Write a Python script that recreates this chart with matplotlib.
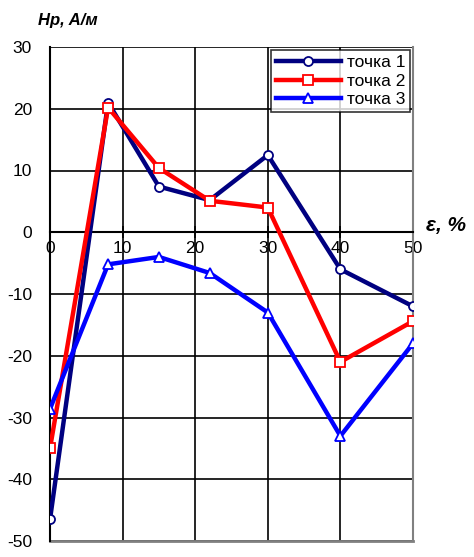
import matplotlib
matplotlib.use("Agg")
import matplotlib.pyplot as plt

# deformation, %
eps = [0, 8, 15, 22, 30, 40, 50]
# Hp, A/m for each measuring point
point1 = [-46.5, 21, 7.4, 5.2, 12.5, -6, -12]
point2 = [-35, 20.2, 10.4, 5.1, 4, -21, -14.4]
point3 = [-28.6, -5.2, -4.0, -6.6, -13, -33, -18]
labels = ["точка 1", "точка 2", "точка 3"]

x_ticks = [0, 10, 20, 30, 40, 50]
y_ticks = [-50, -40, -30, -20, -10, 0, 10, 20, 30]

plt.rcParams["font.family"] = ["Liberation Sans", "DejaVu Sans"]
plt.rcParams["axes.unicode_minus"] = False

fig = plt.figure(figsize=(4.74, 5.57), dpi=100)
ax = fig.add_axes([50 / 474, 16 / 557, 363 / 474, 494 / 557])

styles = [
    ("#000080", "o", 6.5),
    ("#FF0000", "s", 7.5),
    ("#0000FF", "^", 7.5),
]
for ys, lab, (c, m, ms) in zip([point1, point2, point3], labels, styles):
    ax.plot(eps, ys, color=c, lw=3.2, marker=m, ms=ms, mfc="white",
            mec=c, mew=1.3, label=lab, zorder=3)

ax.set_xlim(0, 50)
ax.set_ylim(-50, 30)
ax.set_xticks(x_ticks)
ax.set_yticks(y_ticks)
ax.grid(True, color="black", lw=1.2)

ax.spines["top"].set_visible(False)
ax.spines["right"].set_color("#808080")
ax.spines["right"].set_linewidth(1.5)
ax.spines["left"].set_linewidth(1.5)
ax.spines["bottom"].set_position(("data", 0))
ax.spines["bottom"].set_linewidth(1.5)

ax.tick_params(axis="y", length=0, labelsize=12.5, pad=13)
ax.tick_params(axis="x", direction="inout", length=8, width=1.2,
               labelsize=12.5, pad=2)
for t in ax.get_xticklabels():
    t.set_zorder(5)

# gray frame line at the bottom of the plot
ax.axhline(-50, color="#808080", lw=2, clip_on=False)

fig.text(38 / 474, 1 - 20 / 557, "Hp, A/м", fontsize=12, fontweight="bold",
         fontstyle="italic", ha="left", va="center")
fig.text(426 / 474, 1 - 226 / 557, "ε, %", fontsize=15, fontweight="bold",
         fontstyle="italic", ha="left", va="center")

leg = ax.legend(loc="upper right", bbox_to_anchor=(1.0, 1.0), fontsize=12.5,
                frameon=True, fancybox=False, edgecolor="black",
                handlelength=3.8, handletextpad=0.3, borderpad=0.25,
                labelspacing=0.2, borderaxespad=0.2)
leg.get_frame().set_linewidth(1.2)
leg.set_zorder(6)

fig.savefig("out.png", dpi=100)
